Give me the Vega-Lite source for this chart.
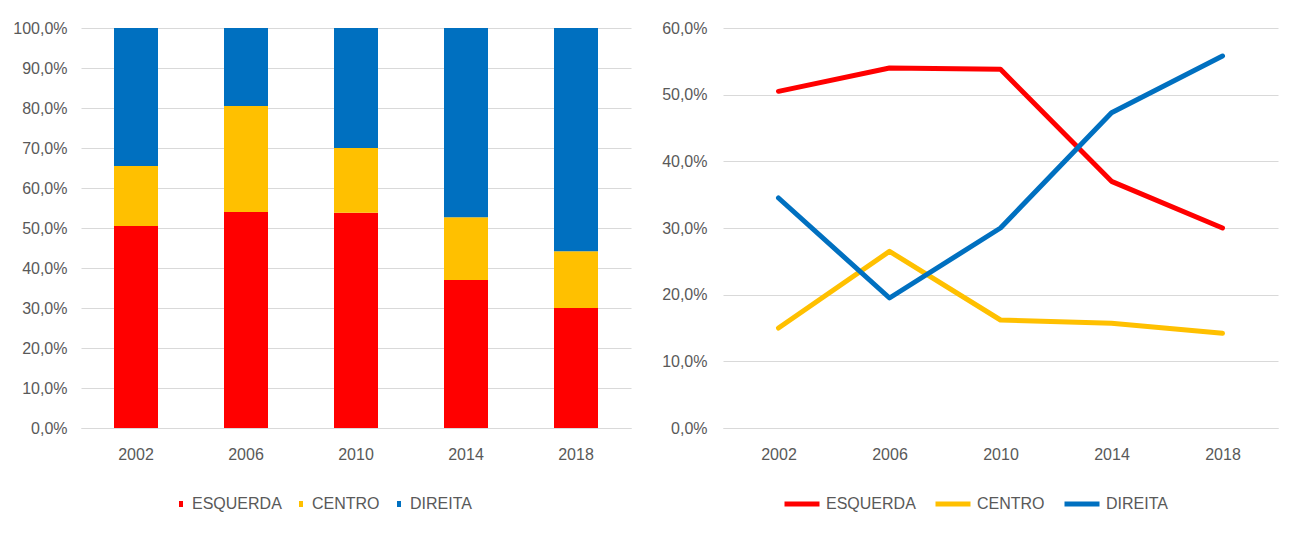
{
  "$schema": "https://vega.github.io/schema/vega-lite/v6.json",
  "background": "white",
  "padding": {"left": 12, "top": 20, "right": 5, "bottom": 5},
  "spacing": 30,
  "datasets": {
    "votos": [
      {"ano": "2002", "grupo": "ESQUERDA", "ordem": 1, "pct": 50.5},
      {"ano": "2002", "grupo": "CENTRO", "ordem": 2, "pct": 15.0},
      {"ano": "2002", "grupo": "DIREITA", "ordem": 3, "pct": 34.5},
      {"ano": "2006", "grupo": "ESQUERDA", "ordem": 1, "pct": 54.0},
      {"ano": "2006", "grupo": "CENTRO", "ordem": 2, "pct": 26.5},
      {"ano": "2006", "grupo": "DIREITA", "ordem": 3, "pct": 19.5},
      {"ano": "2010", "grupo": "ESQUERDA", "ordem": 1, "pct": 53.8},
      {"ano": "2010", "grupo": "CENTRO", "ordem": 2, "pct": 16.2},
      {"ano": "2010", "grupo": "DIREITA", "ordem": 3, "pct": 30.0},
      {"ano": "2014", "grupo": "ESQUERDA", "ordem": 1, "pct": 37.0},
      {"ano": "2014", "grupo": "CENTRO", "ordem": 2, "pct": 15.7},
      {"ano": "2014", "grupo": "DIREITA", "ordem": 3, "pct": 47.3},
      {"ano": "2018", "grupo": "ESQUERDA", "ordem": 1, "pct": 30.0},
      {"ano": "2018", "grupo": "CENTRO", "ordem": 2, "pct": 14.2},
      {"ano": "2018", "grupo": "DIREITA", "ordem": 3, "pct": 55.8}
    ]
  },
  "config": {
    "font": "Liberation Sans",
    "view": {"stroke": null},
    "axis": {
      "labelFont": "Liberation Sans",
      "labelFontSize": 16,
      "labelColor": "#595959",
      "gridColor": "#D9D9D9",
      "gridWidth": 1.2,
      "domainColor": "#D9D9D9",
      "domainWidth": 1.2,
      "ticks": false,
      "title": null
    },
    "legend": {
      "labelFont": "Liberation Sans",
      "labelFontSize": 16,
      "labelColor": "#595959",
      "title": null
    }
  },
  "resolve": {"scale": {"color": "independent"}, "legend": {"color": "independent"}},
  "hconcat": [
    {
      "width": 550,
      "height": 400,
      "data": {"name": "votos"},
      "mark": {"type": "bar"},
      "encoding": {
        "x": {
          "field": "ano", "type": "ordinal",
          "scale": {"paddingInner": 0.6, "paddingOuter": 0.3},
          "axis": {"labelAngle": 0, "grid": false, "domain": true, "labelPadding": 18}
        },
        "y": {
          "field": "pct", "type": "quantitative", "stack": "zero",
          "scale": {"domain": [0, 100]},
          "axis": {
            "values": [0, 10, 20, 30, 40, 50, 60, 70, 80, 90, 100],
            "labelExpr": "replace(format(datum.value, '.1f'), '.', ',') + '%'",
            "domain": false, "labelPadding": 14, "minExtent": 68, "maxExtent": 68
          }
        },
        "order": {"field": "ordem", "type": "quantitative", "sort": "ascending"},
        "color": {
          "field": "grupo", "type": "nominal",
          "sort": ["ESQUERDA", "CENTRO", "DIREITA"],
          "scale": {"domain": ["ESQUERDA", "CENTRO", "DIREITA"], "range": ["#FF0000", "#FFC000", "#0070C0"]},
          "legend": {
            "orient": "none", "legendX": 92, "legendY": 468, "direction": "horizontal",
            "symbolType": "M-0.33,-0.5H0.33V0.5H-0.33Z", "symbolSize": 144, "symbolStrokeWidth": 0,
            "labelOffset": 3, "columnPadding": 11
          }
        }
      }
    },
    {
      "width": 555,
      "height": 400,
      "data": {"name": "votos"},
      "mark": {"type": "line", "strokeWidth": 5, "strokeCap": "round", "strokeJoin": "round"},
      "encoding": {
        "x": {
          "field": "ano", "type": "ordinal",
          "scale": {"type": "point", "padding": 0.5},
          "axis": {"labelAngle": 0, "grid": false, "domain": true, "labelPadding": 18}
        },
        "y": {
          "field": "pct", "type": "quantitative",
          "scale": {"domain": [0, 60]},
          "axis": {
            "values": [0, 10, 20, 30, 40, 50, 60],
            "labelExpr": "replace(format(datum.value, '.1f'), '.', ',') + '%'",
            "domain": false, "labelPadding": 16, "minExtent": 60, "maxExtent": 60
          }
        },
        "color": {
          "field": "grupo", "type": "nominal",
          "sort": ["ESQUERDA", "CENTRO", "DIREITA"],
          "scale": {"domain": ["ESQUERDA", "CENTRO", "DIREITA"], "range": ["#FF0000", "#FFC000", "#0070C0"]},
          "legend": {
            "orient": "none", "legendX": 59, "legendY": 456, "direction": "horizontal",
            "symbolType": "stroke", "symbolSize": 1225, "symbolStrokeWidth": 5,
            "labelOffset": 4, "columnPadding": 9
          }
        }
      }
    }
  ]
}
